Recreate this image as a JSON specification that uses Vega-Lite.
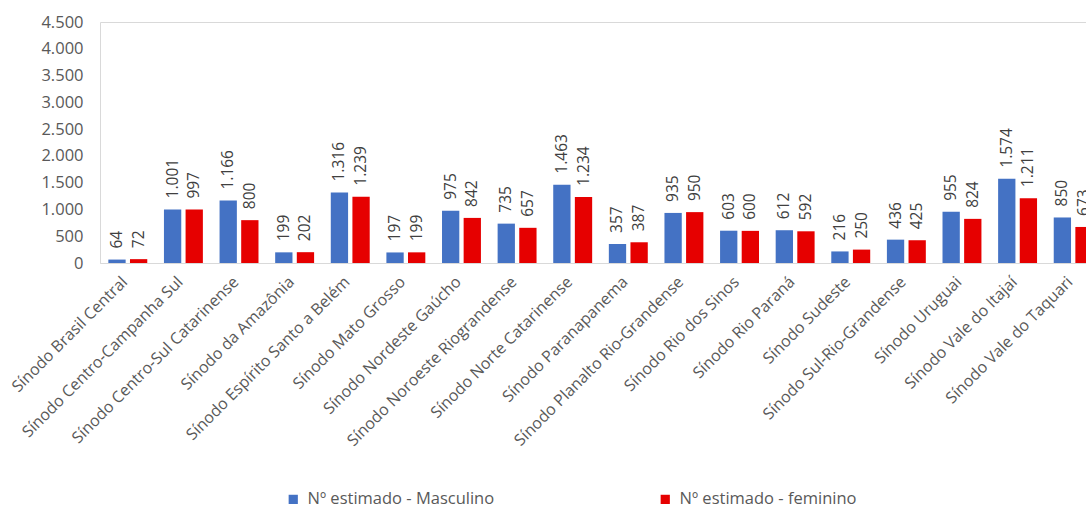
{
  "$schema": "https://vega.github.io/schema/vega-lite/v6.json",
  "autosize": "none",
  "padding": {"left": 100, "top": 22, "right": 0, "bottom": 246},
  "width": 1001,
  "height": 241,
  "background": "white",
  "config": {
    "locale": {"number": {"decimal": ",", "thousands": ".", "grouping": [3], "currency": ["R$", ""]}},
    "view": {"stroke": "#d9d9d9", "strokeWidth": 1},
    "font": "Open Sans"
  },
  "data": {
    "values": [
      {"sinodo": "Sínodo Brasil Central", "serie": "Nº estimado - Masculino", "valor": 64},
      {"sinodo": "Sínodo Brasil Central", "serie": "Nº estimado - feminino", "valor": 72},
      {"sinodo": "Sínodo Centro-Campanha Sul", "serie": "Nº estimado - Masculino", "valor": 1001},
      {"sinodo": "Sínodo Centro-Campanha Sul", "serie": "Nº estimado - feminino", "valor": 997},
      {"sinodo": "Sínodo Centro-Sul Catarinense", "serie": "Nº estimado - Masculino", "valor": 1166},
      {"sinodo": "Sínodo Centro-Sul Catarinense", "serie": "Nº estimado - feminino", "valor": 800},
      {"sinodo": "Sínodo da Amazônia", "serie": "Nº estimado - Masculino", "valor": 199},
      {"sinodo": "Sínodo da Amazônia", "serie": "Nº estimado - feminino", "valor": 202},
      {"sinodo": "Sínodo Espírito Santo a Belém", "serie": "Nº estimado - Masculino", "valor": 1316},
      {"sinodo": "Sínodo Espírito Santo a Belém", "serie": "Nº estimado - feminino", "valor": 1239},
      {"sinodo": "Sínodo Mato Grosso", "serie": "Nº estimado - Masculino", "valor": 197},
      {"sinodo": "Sínodo Mato Grosso", "serie": "Nº estimado - feminino", "valor": 199},
      {"sinodo": "Sínodo Nordeste Gaúcho", "serie": "Nº estimado - Masculino", "valor": 975},
      {"sinodo": "Sínodo Nordeste Gaúcho", "serie": "Nº estimado - feminino", "valor": 842},
      {"sinodo": "Sínodo Noroeste Riograndense", "serie": "Nº estimado - Masculino", "valor": 735},
      {"sinodo": "Sínodo Noroeste Riograndense", "serie": "Nº estimado - feminino", "valor": 657},
      {"sinodo": "Sínodo Norte Catarinense", "serie": "Nº estimado - Masculino", "valor": 1463},
      {"sinodo": "Sínodo Norte Catarinense", "serie": "Nº estimado - feminino", "valor": 1234},
      {"sinodo": "Sínodo Paranapanema", "serie": "Nº estimado - Masculino", "valor": 357},
      {"sinodo": "Sínodo Paranapanema", "serie": "Nº estimado - feminino", "valor": 387},
      {"sinodo": "Sínodo Planalto Rio-Grandense", "serie": "Nº estimado - Masculino", "valor": 935},
      {"sinodo": "Sínodo Planalto Rio-Grandense", "serie": "Nº estimado - feminino", "valor": 950},
      {"sinodo": "Sínodo Rio dos Sinos", "serie": "Nº estimado - Masculino", "valor": 603},
      {"sinodo": "Sínodo Rio dos Sinos", "serie": "Nº estimado - feminino", "valor": 600},
      {"sinodo": "Sínodo Rio Paraná", "serie": "Nº estimado - Masculino", "valor": 612},
      {"sinodo": "Sínodo Rio Paraná", "serie": "Nº estimado - feminino", "valor": 592},
      {"sinodo": "Sínodo Sudeste", "serie": "Nº estimado - Masculino", "valor": 216},
      {"sinodo": "Sínodo Sudeste", "serie": "Nº estimado - feminino", "valor": 250},
      {"sinodo": "Sínodo Sul-Rio-Grandense", "serie": "Nº estimado - Masculino", "valor": 436},
      {"sinodo": "Sínodo Sul-Rio-Grandense", "serie": "Nº estimado - feminino", "valor": 425},
      {"sinodo": "Sínodo Uruguai", "serie": "Nº estimado - Masculino", "valor": 955},
      {"sinodo": "Sínodo Uruguai", "serie": "Nº estimado - feminino", "valor": 824},
      {"sinodo": "Sínodo Vale do Itajaí", "serie": "Nº estimado - Masculino", "valor": 1574},
      {"sinodo": "Sínodo Vale do Itajaí", "serie": "Nº estimado - feminino", "valor": 1211},
      {"sinodo": "Sínodo Vale do Taquari", "serie": "Nº estimado - Masculino", "valor": 850},
      {"sinodo": "Sínodo Vale do Taquari", "serie": "Nº estimado - feminino", "valor": 673}
    ]
  },
  "encoding": {
    "x": {
      "field": "sinodo", "type": "nominal", "sort": null,
      "scale": {"paddingInner": 0.3, "paddingOuter": 0.15},
      "axis": {
        "title": null, "labelAngle": -45, "labelAlign": "right", "labelBaseline": "middle",
        "labelFontSize": 16, "labelColor": "#595959", "labelFont": "Open Sans",
        "ticks": false, "domainColor": "#d9d9d9", "labelPadding": 16, "labelOffset": -3, "labelLimit": 400
      }
    },
    "xOffset": {
      "field": "serie", "type": "nominal",
      "sort": ["Nº estimado - Masculino", "Nº estimado - feminino"],
      "scale": {"paddingInner": 0.2, "paddingOuter": 0}
    },
    "y": {
      "field": "valor", "type": "quantitative",
      "scale": {"domain": [0, 4500], "nice": false},
      "axis": {
        "title": null, "values": [0, 500, 1000, 1500, 2000, 2500, 3000, 3500, 4000, 4500],
        "format": ",d", "grid": false, "ticks": false, "domain": false,
        "labelFontSize": 16.5, "labelColor": "#595959", "labelPadding": 17, "labelFont": "Open Sans"
      }
    }
  },
  "layer": [
    {
      "mark": {"type": "bar"},
      "encoding": {
        "color": {
          "field": "serie", "type": "nominal",
          "scale": {"domain": ["Nº estimado - Masculino", "Nº estimado - feminino"], "range": ["#4472c4", "#e60000"]},
          "legend": {
            "title": null, "orient": "none", "direction": "horizontal",
            "legendX": 185, "legendY": 469,
            "symbolType": "square", "symbolSize": 85, "symbolStrokeWidth": 0,
            "labelFontSize": 16.5, "labelColor": "#595959", "labelFont": "Open Sans",
            "columnPadding": 162, "labelOffset": 6, "labelLimit": 400
          }
        }
      }
    },
    {
      "mark": {"type": "text", "angle": 270, "align": "left", "baseline": "middle", "dx": 11, "fontSize": 15.5, "color": "#404040", "font": "Open Sans"},
      "encoding": {
        "text": {"field": "valor", "type": "quantitative", "format": ",d"}
      }
    }
  ]
}
